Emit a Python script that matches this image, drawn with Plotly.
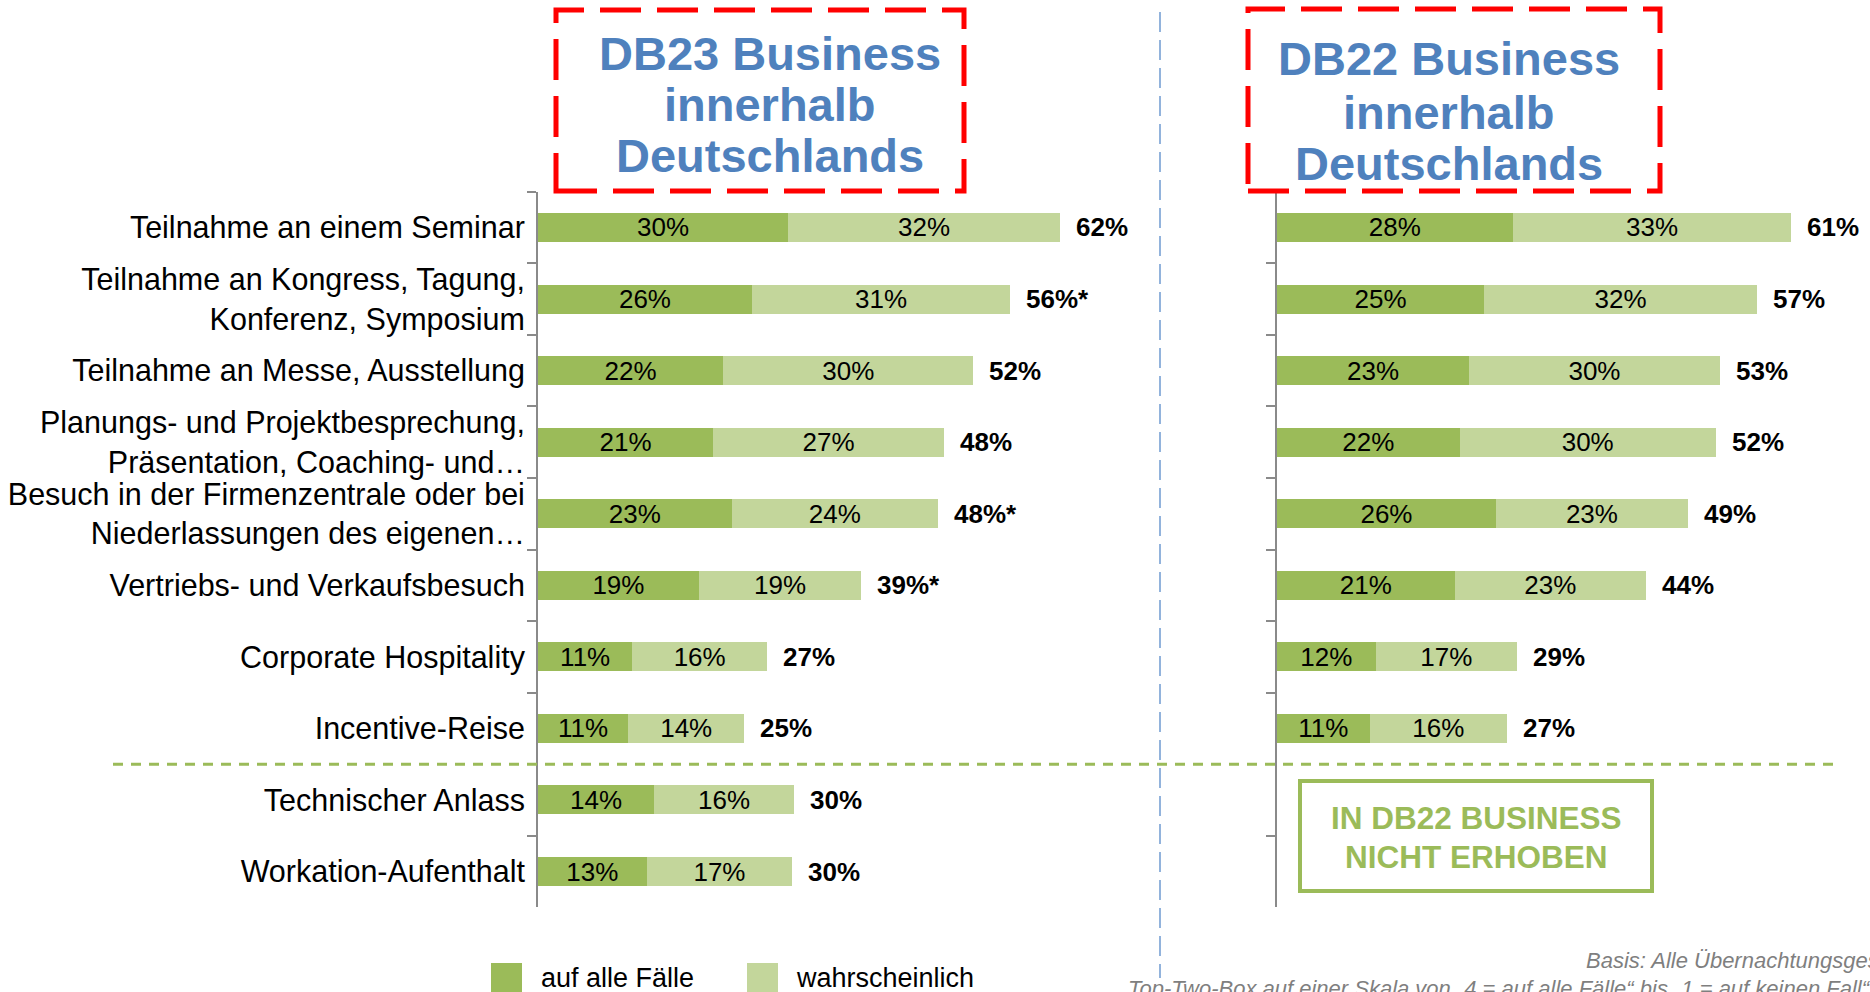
import plotly.graph_objects as go

W, H = 1870, 992

categories = [
    "Teilnahme an einem Seminar",
    "Teilnahme an Kongress, Tagung,<br>Konferenz, Symposium",
    "Teilnahme an Messe, Ausstellung",
    "Planungs- und Projektbesprechung,<br>Präsentation, Coaching- und…",
    "Besuch in der Firmenzentrale oder bei<br>Niederlassungen des eigenen…",
    "Vertriebs- und Verkaufsbesuch",
    "Corporate Hospitality",
    "Incentive-Reise",
    "Technischer Anlass",
    "Workation-Aufenthalt",
]

series_names = ["auf alle Fälle", "wahrscheinlich"]

db23_sure = [29.7, 25.4, 22.0, 20.8, 23.0, 19.1, 11.2, 10.7, 13.8, 12.9]
db23_likely = [32.3, 30.7, 29.7, 27.4, 24.5, 19.3, 16.0, 13.8, 16.6, 17.3]
db23_sure_lbl = ["30%", "26%", "22%", "21%", "23%", "19%", "11%", "11%", "14%", "13%"]
db23_likely_lbl = ["32%", "31%", "30%", "27%", "24%", "19%", "16%", "14%", "16%", "17%"]
db23_total_lbl = ["62%", "56%*", "52%", "48%", "48%*", "39%*", "27%", "25%", "30%", "30%"]

db22_sure = [28.0, 24.6, 22.8, 21.7, 26.0, 21.1, 11.7, 11.0]
db22_likely = [33.1, 32.4, 29.8, 30.4, 22.8, 22.7, 16.8, 16.3]
db22_sure_lbl = ["28%", "25%", "23%", "22%", "26%", "21%", "12%", "11%"]
db22_likely_lbl = ["33%", "32%", "30%", "30%", "23%", "23%", "17%", "16%"]
db22_total_lbl = ["61%", "57%", "53%", "52%", "49%", "44%", "29%", "27%"]

title_left = ["DB23 Business", "innerhalb", "Deutschlands"]
title_right = ["DB22 Business", "innerhalb", "Deutschlands"]
not_collected = ["IN DB22 BUSINESS", "NICHT ERHOBEN"]
footnote_1 = "Basis: Alle Übernachtungsgeschäftsreisenden"
footnote_2 = "Top-Two-Box auf einer Skala von „4 = auf alle Fälle“ bis „1 = auf keinen Fall“; Angaben in Prozent"

DARK = "#9BBB59"
LIGHT = "#C3D69B"
FONT = "Arial, Liberation Sans, sans-serif"
AXIS_GRAY = "#8A8A8A"


def px(x):
    return x / W


def py(y):
    return 1 - y / H


PX_PER_PCT = 8.42
Y_TOP, Y_BOT = 191.7, 907.3
L0, L1 = 538, 1100
R0, R1 = 1277, 1840

fig = go.Figure()

bar_common = dict(
    orientation="h",
    textposition="inside",
    insidetextanchor="middle",
    textangle=0,
    constraintext="none",
    insidetextfont=dict(size=26, color="black", family=FONT),
    marker_line_width=0,
    hoverinfo="skip",
    showlegend=False,
)

fig.add_trace(go.Bar(y=categories, x=db23_sure, text=db23_sure_lbl, name=series_names[0],
                     marker_color=DARK, xaxis="x", yaxis="y", **bar_common))
fig.add_trace(go.Bar(y=categories, x=db23_likely, text=db23_likely_lbl, name=series_names[1],
                     marker_color=LIGHT, xaxis="x", yaxis="y", **bar_common))
fig.add_trace(go.Bar(y=categories[:len(db22_sure)], x=db22_sure, text=db22_sure_lbl, name=series_names[0],
                     marker_color=DARK, xaxis="x2", yaxis="y2", **bar_common))
fig.add_trace(go.Bar(y=categories[:len(db22_likely)], x=db22_likely, text=db22_likely_lbl, name=series_names[1],
                     marker_color=LIGHT, xaxis="x2", yaxis="y2", **bar_common))

annotations = []
for cat, a, b, lbl in zip(categories, db23_sure, db23_likely, db23_total_lbl):
    annotations.append(dict(x=a + b, y=cat, xref="x", yref="y", text=lbl, showarrow=False,
                            xanchor="left", yanchor="middle", xshift=14,
                            font=dict(size=26, color="black", family=FONT, weight="bold")))
for cat, a, b, lbl in zip(categories, db22_sure, db22_likely, db22_total_lbl):
    annotations.append(dict(x=a + b, y=cat, xref="x2", yref="y2", text=lbl, showarrow=False,
                            xanchor="left", yanchor="middle", xshift=14,
                            font=dict(size=26, color="black", family=FONT, weight="bold")))

# Titles in red dashed boxes
for txt, yy in zip(title_left, [53, 104, 155]):
    annotations.append(dict(x=px(770), y=py(yy), xref="paper", yref="paper", text=txt,
                            showarrow=False, xanchor="center", yanchor="middle",
                            font=dict(size=47, color="#4F81BD", family=FONT, weight="bold")))
for txt, yy in zip(title_right, [59, 112, 163]):
    annotations.append(dict(x=px(1449), y=py(yy), xref="paper", yref="paper", text=txt,
                            showarrow=False, xanchor="center", yanchor="middle",
                            font=dict(size=47, color="#4F81BD", family=FONT, weight="bold")))
# Not-collected box text
for txt, yy in zip(not_collected, [818, 857]):
    annotations.append(dict(x=px(1476), y=py(yy), xref="paper", yref="paper", text=txt,
                            showarrow=False, xanchor="center", yanchor="middle",
                            font=dict(size=31.5, color=DARK, family=FONT, weight="bold")))

# Legend (manual, large squares)
annotations.append(dict(x=px(539), y=py(978), xref="paper", yref="paper", text=series_names[0],
                        showarrow=False, xanchor="left", yanchor="middle",
                        font=dict(size=27, color="black", family=FONT)))
annotations.append(dict(x=px(794), y=py(978), xref="paper", yref="paper", text=series_names[1],
                        showarrow=False, xanchor="left", yanchor="middle",
                        font=dict(size=27, color="black", family=FONT)))

# Footnotes
annotations.append(dict(x=px(1584), y=py(960), xref="paper", yref="paper", text=footnote_1,
                        showarrow=False, xanchor="left", yanchor="middle",
                        font=dict(size=22, color="#7F7F7F", family=FONT, style="italic")))
annotations.append(dict(x=px(1126), y=py(988), xref="paper", yref="paper", text=footnote_2,
                        showarrow=False, xanchor="left", yanchor="middle",
                        font=dict(size=22, color="#7F7F7F", family=FONT, style="italic")))

shapes = [
    # red dashed title boxes
    dict(type="rect", xref="paper", yref="paper", x0=px(556), x1=px(964), y0=py(191), y1=py(10),
         line=dict(color="#FF0000", width=5, dash="41px,16px")),
    dict(type="rect", xref="paper", yref="paper", x0=px(1248), x1=px(1660), y0=py(191), y1=py(9),
         line=dict(color="#FF0000", width=5, dash="41px,16px")),
    # blue vertical separator
    dict(type="line", xref="paper", yref="paper", x0=px(1160), x1=px(1160), y0=py(12), y1=py(978),
         line=dict(color="#6F9BD1", width=1.5, dash="20px,8px")),
    # green dashed separator between rows 8 and 9
    dict(type="line", xref="paper", yref="y", x0=px(113), x1=px(1837), y0=7.5, y1=7.5,
         line=dict(color=DARK, width=3, dash="10px,8px")),
    # not collected box
    dict(type="rect", xref="paper", yref="paper", x0=px(1300), x1=px(1652), y0=py(891), y1=py(781),
         line=dict(color=DARK, width=4)),
    # legend squares
    dict(type="rect", xref="paper", yref="paper", x0=px(491), x1=px(522), y0=py(995), y1=py(963),
         fillcolor=DARK, line=dict(width=0)),
    dict(type="rect", xref="paper", yref="paper", x0=px(747), x1=px(778), y0=py(995), y1=py(963),
         fillcolor=LIGHT, line=dict(width=0)),
]

yaxis_common = dict(
    type="category",
    categoryorder="array",
    categoryarray=categories,
    range=[9.5, -0.5],
    domain=[py(Y_BOT), py(Y_TOP)],
    showline=True, linecolor=AXIS_GRAY, linewidth=2,
    ticks="outside", tickson="boundaries", ticklen=9, tickwidth=2, tickcolor=AXIS_GRAY,
    showgrid=False, zeroline=False,
    tickfont=dict(size=30.5, color="black", family=FONT),
    ticklabelstandoff=5,
    fixedrange=True,
)

fig.update_layout(
    width=W, height=H, autosize=False,
    margin=dict(l=0, r=0, t=0, b=0),
    paper_bgcolor="white", plot_bgcolor="white",
    barmode="stack", bargap=0.595,
    showlegend=False,
    xaxis=dict(domain=[px(L0), px(L1)], range=[0, (L1 - L0) / PX_PER_PCT], visible=False, anchor="y"),
    xaxis2=dict(domain=[px(R0), px(R1)], range=[0, (R1 - R0) / PX_PER_PCT], visible=False, anchor="y2"),
    yaxis=dict(anchor="x", **yaxis_common),
    yaxis2=dict(anchor="x2", showticklabels=False, **yaxis_common),
    annotations=annotations,
    shapes=shapes,
    font=dict(family=FONT),
)

fig.write_html(
    "out.html",
    config={"displayModeBar": False},
    post_script="document.body.style.margin='0';document.body.style.overflow='hidden';",
)
